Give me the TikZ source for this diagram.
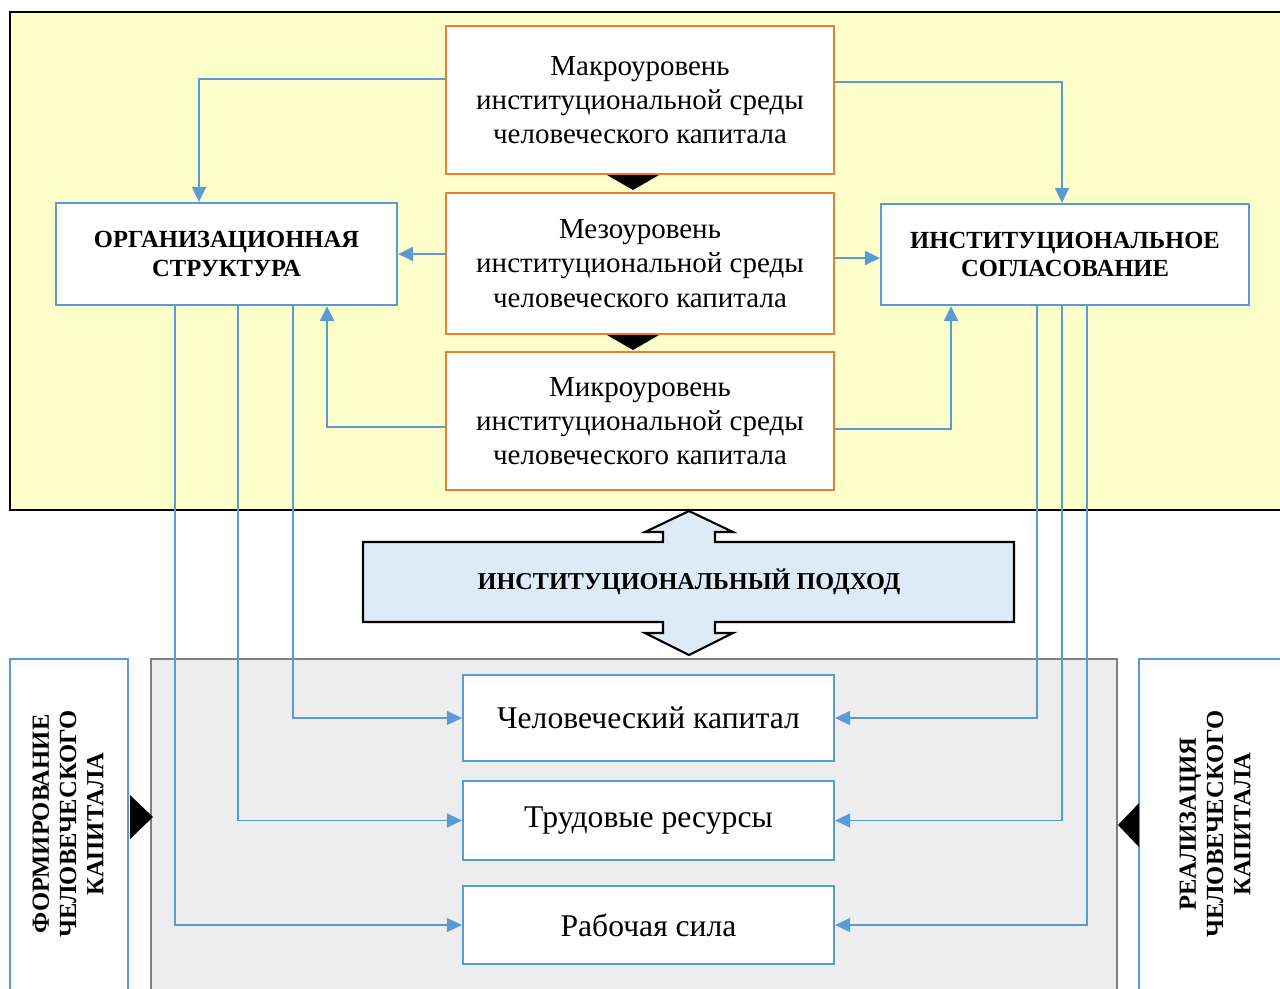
\documentclass[tikz,border=0pt]{standalone}
\usepackage{fontspec}
\setmainfont{Liberation Serif}
\usepackage{xcolor}
\usetikzlibrary{arrows.meta}
\usetikzlibrary{positioning}
\definecolor{orangeline}{HTML}{ED7D31}
\definecolor{blueline}{HTML}{5B9BD5}
\definecolor{paleyellow}{HTML}{FFFFCC}
\definecolor{paleblue}{HTML}{DEEBF7}
\definecolor{palegray}{HTML}{EDEDED}
\definecolor{grayline}{HTML}{7F7F7F}
\tikzset{>={Triangle[width=8pt,length=8.5pt]}}

\begin{document}
\begin{tikzpicture}
	[x=0.02cm,y=-0.02cm,
	level/.style={rectangle,draw=orangeline,fill=white,line width=1.3pt,minimum width=7.76cm,align=center,font=\fontsize{16.5}{19.5}\selectfont},
	block/.style={rectangle,draw=blueline,fill=white,line width=1.3pt,align=center,font=\fontsize{14}{16}\selectfont\bfseries},
	res/.style={rectangle,draw=blueline,fill=white,line width=1.3pt,minimum width=7.42cm,font=\fontsize{18}{21}\selectfont},
	link/.style={draw=blueline,line width=1.1pt,->},
	thin/.style={draw=blueline,line width=0.6pt,->}]
	\useasboundingbox (0,0) rectangle (1280,988);
	\clip (0,0) rectangle (1280,988);
	\fill[white] (0,0) rectangle (1280,988);
	\draw[fill=paleyellow,line width=1.2pt] (10,12) rectangle (1300,510);
	\draw[fill=palegray,draw=grayline,line width=1.5pt] (151,659) rectangle (1117,1000);
	\draw[fill=white,draw=blueline,line width=1.3pt] (10,659) rectangle (128,1000);
	\draw[fill=white,draw=blueline,line width=1.3pt] (1139,659) rectangle (1300,1000);
	\fill (607,175) -- (659,175) -- (633,190) -- cycle;
	\fill (607,335) -- (659,335) -- (633,350) -- cycle;
	\fill (130,795) -- (153,817) -- (130,839) -- cycle;
	\fill (1139,803) -- (1118,825) -- (1139,847) -- cycle;
	\node [level,minimum height=2.96cm] (Macro) at (640,100) {Макроуровень\\институциональной среды\\человеческого капитала};
	\node [level,minimum height=2.82cm] (Meso) at (640,263.5) {Мезоуровень\\институциональной среды\\человеческого капитала};
	\node [level,minimum height=2.76cm] (Micro) at (640,421) {Микроуровень\\институциональной среды\\человеческого капитала};
	\node [block,minimum width=6.82cm,minimum height=2.04cm] (Org) at (226.5,254) {ОРГАНИЗАЦИОННАЯ\\СТРУКТУРА};
	\node [block,minimum width=7.36cm,minimum height=2.02cm] (Inst) at (1065,254.5) {ИНСТИТУЦИОНАЛЬНОЕ\\СОГЛАСОВАНИЕ};
	\draw[fill=paleblue,line width=1.2pt] (363,542) -- (663,542) -- (663,532) -- (645,532) -- (689,511) -- (733,532) -- (715,532) -- (715,542) -- (1014,542) -- (1014,622) -- (715,622) -- (715,633) -- (733,633) -- (689,655) -- (645,633) -- (663,633) -- (663,622) -- (363,622) -- cycle;
	\node [font=\fontsize{13.8}{16}\selectfont\bfseries] (Approach) at (689,582) {ИНСТИТУЦИОНАЛЬНЫЙ ПОДХОД};
	\node [res,minimum height=1.72cm] (Capital) at (648.5,718) {Человеческий капитал};
	\node [res,minimum height=1.58cm] (Labour) at (648.5,820.5) {Трудовые ресурсы};
	\node [res,minimum height=1.56cm] (Force) at (648.5,925) {Рабочая сила};
	\node [rotate=90,align=center,font=\fontsize{14}{15.5}\selectfont\bfseries] (Forming) at (68,824) {ФОРМИРОВАНИЕ\\ЧЕЛОВЕЧЕСКОГО\\КАПИТАЛА};
	\node [rotate=90,align=center,font=\fontsize{14}{15.5}\selectfont\bfseries] (Realising) at (1215,824) {РЕАЛИЗАЦИЯ\\ЧЕЛОВЕЧЕСКОГО\\КАПИТАЛА};
	\draw[link] (Macro.west |- 0,79) -| (Org.north -| 199,0);
	\draw[link] (Macro.east |- 0,82) -| (Inst.north -| 1062,0);
	\draw[link] (Meso.west |- Org.east) -- (Org.east);
	\draw[link] (Meso.east |- 0,258) -- (Inst.west |- 0,258);
	\draw[link] (Micro.west |- 0,427) -| (Org.south -| 327,0);
	\draw[link] (Micro.east |- 0,429) -| (Inst.south -| 951,0);
	\draw[thin] (Org.south -| 175,0) |- (Force.west);
	\draw[thin] (Org.south -| 238,0) |- (Labour.west);
	\draw[thin] (Org.south -| 293,0) |- (Capital.west);
	\draw[thin] (Inst.south -| 1037,0) |- (Capital.east);
	\draw[thin] (Inst.south -| 1062,0) |- (Labour.east);
	\draw[thin] (Inst.south -| 1087,0) |- (Force.east);
\end{tikzpicture}
\end{document}
